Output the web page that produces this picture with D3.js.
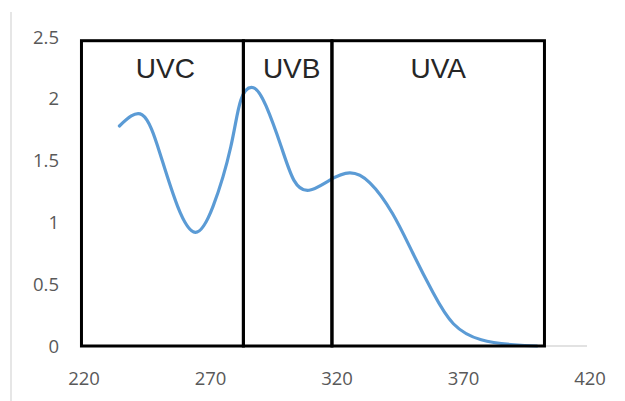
<!DOCTYPE html>
<html>
<head>
<meta charset="utf-8">
<script src="https://cdn.jsdelivr.net/npm/d3@7"></script>
<style>
  body { margin: 0; background: #fff; }
  svg { display: block; }
</style>
</head>
<body>
<svg id="chart" width="625" height="401"></svg>
<script>
// wavelength (nm) and absorbance
const wavelengths = [234, 243, 250, 257, 264, 271, 278, 282, 287, 292, 298, 303, 309, 317, 325, 333, 342, 350, 358, 366, 377, 390, 399]
const absorbance = [1.78, 1.87, 1.56, 1.13, 0.92, 1.13, 1.61, 1.99, 2.09, 1.94, 1.61, 1.34, 1.26, 1.34, 1.40, 1.32, 1.07, 0.75, 0.43, 0.18, 0.05, 0.01, 0.0]

const xTicks = [220, 270, 320, 370, 420]
const yTicks = [0, 0.5, 1, 1.5, 2, 2.5]

// band boundaries (box edges) and labels
const bandEdges = [219, 283, 318, 402]
const bandNames = ['UVC', 'UVB', 'UVA']
const boxTop = 2.47

const svg = d3.select('#chart')

const x = d3.scaleLinear().domain([220, 420]).range([84, 590])
const y = d3.scaleLinear().domain([0, 2.5]).range([346, 37])

// faint left border of the chart area
svg.append('line')
  .attr('x1', 11).attr('x2', 11)
  .attr('y1', 12).attr('y2', 401)
  .attr('stroke', '#e6e6e6')
  .attr('stroke-width', 2)

// x axis baseline
svg.append('line')
  .attr('x1', x(220)).attr('x2', x(420) - 3)
  .attr('y1', y(0)).attr('y2', y(0))
  .attr('stroke', '#d9d9d9')
  .attr('stroke-width', 1.5)

const tickFont = '"Open Sans", sans-serif'

svg.append('g')
  .selectAll('text')
  .data(yTicks)
  .enter()
  .append('text')
  .attr('x', 59)
  .attr('y', (d) => y(d))
  .attr('dy', '0.36em')
  .attr('text-anchor', 'end')
  .style('font-family', tickFont)
  .style('font-size', '18.5px')
  .style('fill', '#595959')
  .text((d) => d)

svg.append('g')
  .selectAll('text')
  .data(xTicks)
  .enter()
  .append('text')
  .attr('x', (d) => x(d))
  .attr('y', 378)
  .attr('dy', '0.36em')
  .attr('text-anchor', 'middle')
  .style('font-family', tickFont)
  .style('font-size', '18.5px')
  .style('fill', '#595959')
  .text((d) => d)

// the spectrum
const line = d3.line()
  .x((d) => x(d[0]))
  .y((d) => y(d[1]))
  .curve(d3.curveNatural)

svg.append('path')
  .datum(d3.zip(wavelengths, absorbance))
  .attr('d', line)
  .attr('fill', 'none')
  .attr('stroke', '#5b9bd5')
  .attr('stroke-width', 3.2)
  .attr('stroke-linecap', 'round')

// band boxes
const bands = d3.pairs(bandEdges).map((p, i) => ({ from: p[0], to: p[1], name: bandNames[i] }))

svg.append('g')
  .selectAll('rect')
  .data(bands)
  .enter()
  .append('rect')
  .attr('x', (d) => x(d.from))
  .attr('y', y(boxTop))
  .attr('width', (d) => x(d.to) - x(d.from))
  .attr('height', y(0) - y(boxTop))
  .attr('fill', 'none')
  .attr('stroke', '#000')
  .attr('stroke-width', 3)

svg.append('g')
  .selectAll('text')
  .data(bands)
  .enter()
  .append('text')
  .attr('x', (d) => (x(d.from) + x(d.to)) / 2 + (d.name === 'UVC' ? 3 : d.name === 'UVB' ? 4 : 0))
  .attr('y', 78)
  .attr('text-anchor', 'middle')
  .style('font-family', '"Liberation Sans", Arial, sans-serif')
  .style('font-size', '28px')
  .style('fill', '#262626')
  .text((d) => d.name)
</script>
</body>
</html>
